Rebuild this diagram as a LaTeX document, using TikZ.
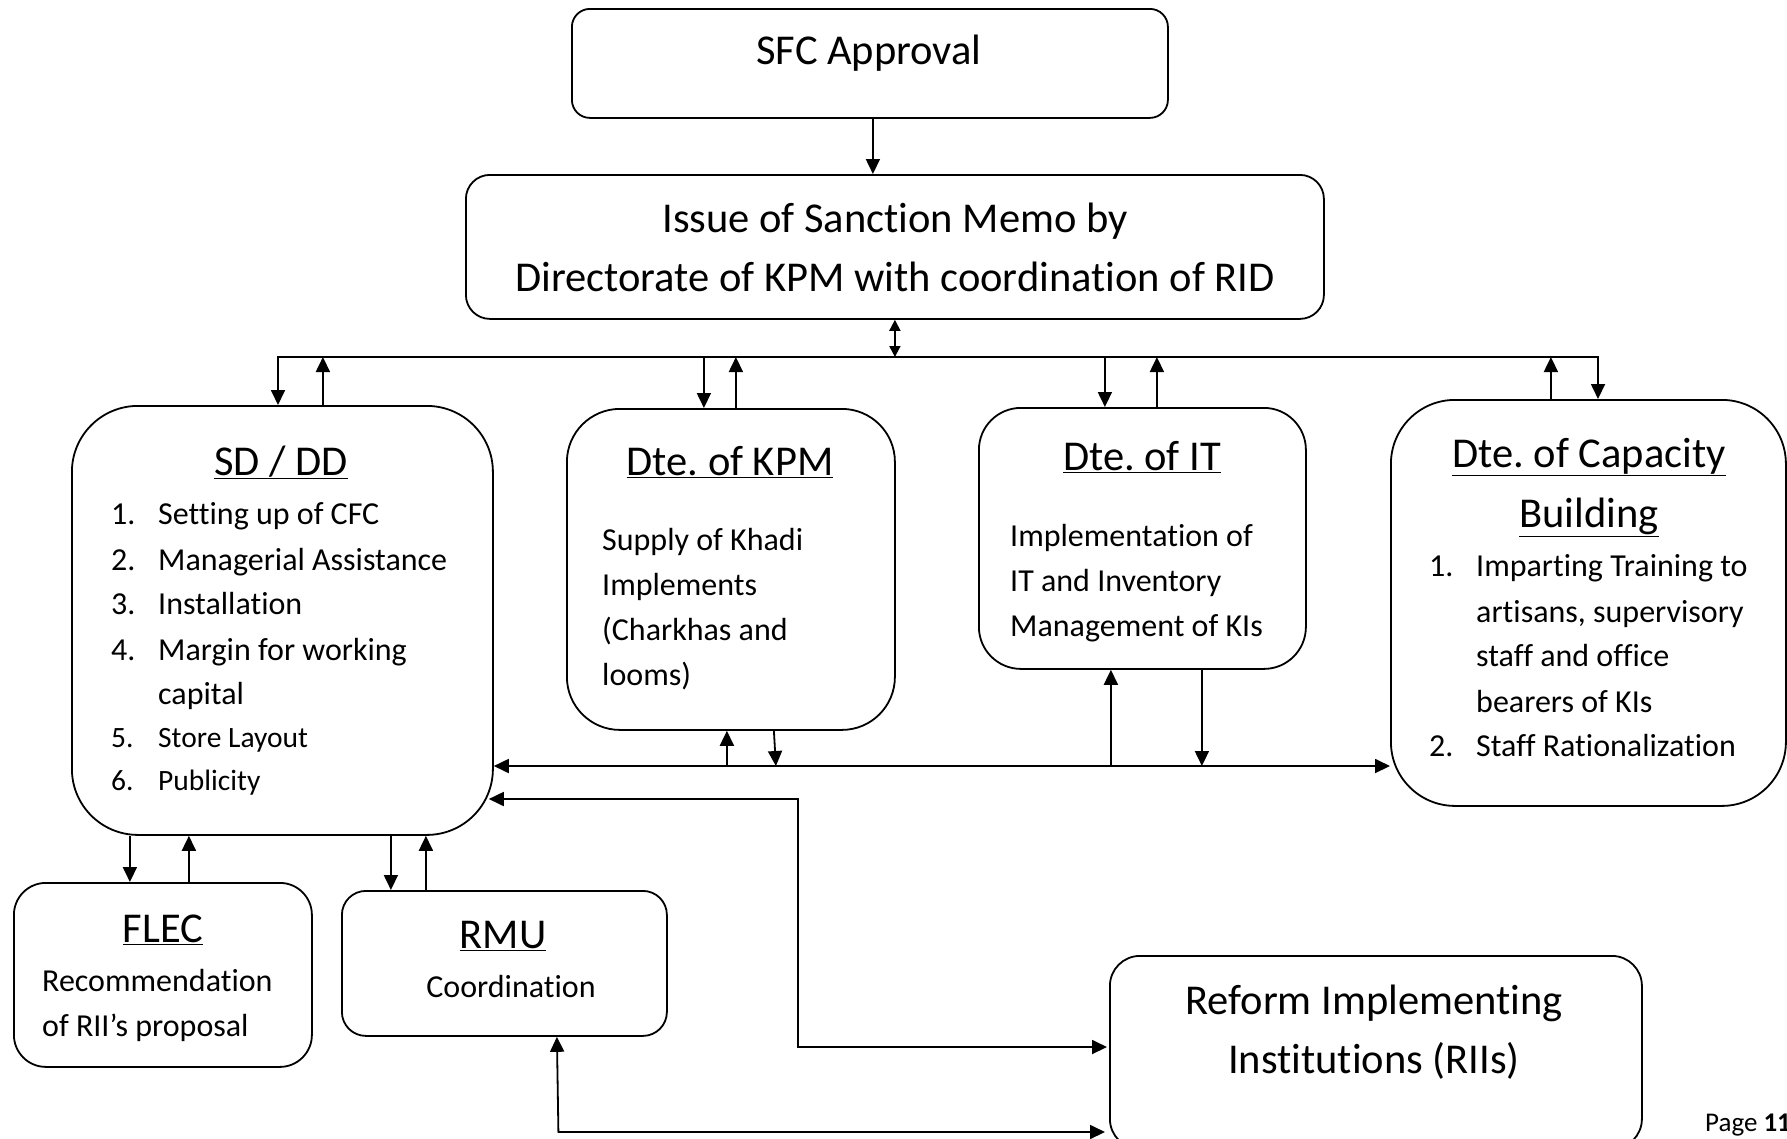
\documentclass[tikz,border=0pt]{standalone}
\usepackage{fontspec}
\setmainfont{Carlito}[Ligatures=NoCommon]
\usetikzlibrary{arrows.meta}
\frenchspacing
\begin{document}
\begin{tikzpicture}[x=1pt,y=-1pt,
  box/.style={draw, line width=1.8pt, rounded corners=#1, inner sep=0pt, anchor=north west},
  ttl/.style={font=\fontsize{42.5}{59}\selectfont, inner sep=0pt, anchor=mid, yshift=-11pt},
  bdy/.style={font=\fontsize{32}{45}\selectfont, inner sep=0pt, anchor=mid west, yshift=-8pt},
  sml/.style={font=\fontsize{29.5}{42}\selectfont, inner sep=0pt, anchor=mid west, yshift=-8pt},
  arr/.style={-{Triangle[length=15pt,width=14pt]}, line width=1.8pt},
  darr/.style={{Triangle[length=15pt,width=14pt]}-{Triangle[length=15pt,width=14pt]}, line width=1.8pt},
  sdarr/.style={{Triangle[length=11pt,width=11pt]}-{Triangle[length=11pt,width=11pt]}, line width=1.8pt}]
\useasboundingbox (0,0) rectangle (1787,1138);

% boxes
\node[box=18pt, minimum width=596pt, minimum height=109pt] (sfc) at (571,8) {};
\node[box=24pt, minimum width=858pt, minimum height=144pt] (sanc) at (465,174) {};
\node[box=66pt, minimum width=421pt, minimum height=429pt] (sd) at (71,405) {};
\node[box=53pt, minimum width=328pt, minimum height=321pt] (kpm) at (566,408) {};
\node[box=42pt, minimum width=327pt, minimum height=261pt] (it) at (978,407) {};
\node[box=64pt, minimum width=395pt, minimum height=406pt] (cap) at (1390,399) {};
\node[box=32pt, minimum width=298pt, minimum height=184pt] (flec) at (13,882) {};
\node[box=24pt, minimum width=325pt, minimum height=145pt] (rmu) at (341,890) {};
\node[box=30pt, minimum width=532pt, minimum height=193pt] (rii) at (1109,955) {};

% texts
\node[ttl] (t1) at (869,51) {SFC Approval};
\node[ttl] (t2) at (895,219) {Issue of Sanction Memo by};
\node[ttl] (t3) at (895,278) {Directorate of KPM with coordination of RID};

\node[ttl] (sdt) at (281,462) {\underline{SD / DD}};
\foreach \n/\t/\y in {1/Setting up of CFC/514, 2/Managerial Assistance/560, 3/Installation/604, 4/Margin for working/650}{
  \node[bdy] (sdn\n) at (111,\y) {\n.};
  \node[bdy] (sdi\n) at (158,\y) {\t};
}
\node[bdy] (sdi4b) at (158,694) {capital};
\node[sml] (sdn5) at (111,737) {5.};
\node[sml] (sdi5) at (158,737) {Store Layout};
\node[sml] (sdn6) at (111,780) {6.};
\node[sml] (sdi6) at (158,780) {Publicity};

\node[ttl] (kpmt) at (730,462) {\underline{Dte. of KPM}};
\node[bdy] (kpm1) at (602,540) {Supply of Khadi};
\node[bdy] (kpm2) at (602,585) {Implements};
\node[bdy] (kpm3) at (602,630) {(Charkhas and};
\node[bdy] (kpm4) at (602,675) {looms)};

\node[ttl] (itt) at (1142,457) {\underline{Dte. of IT}};
\node[bdy] (it1) at (1010,536) {Implementation of};
\node[bdy] (it2) at (1010,581) {IT and Inventory};
\node[bdy] (it3) at (1010,626) {Management of KIs};

\node[ttl] (capt1) at (1589,454) {\underline{Dte. of Capacity}};
\node[ttl] (capt2) at (1589,514) {\underline{Building}};
\node[bdy] (capn1) at (1429,566) {1.};
\node[bdy] (capi1) at (1476,566) {Imparting Training to};
\node[bdy] (capi1b) at (1476,612) {artisans, supervisory};
\node[bdy] (capi1c) at (1476,656) {staff and office};
\node[bdy] (capi1d) at (1476,702) {bearers of KIs};
\node[bdy] (capn2) at (1429,746) {2.};
\node[bdy] (capi2) at (1476,746) {Staff Rationalization};

\node[ttl] (flect) at (163,929) {\underline{FLEC}};
\node[bdy] (flec1) at (42,981) {Recommendation};
\node[bdy] (flec2) at (42,1026) {of RII’s proposal};

\node[ttl] (rmut) at (503,935) {\underline{RMU}};
\node[bdy, anchor=mid] (rmu1) at (511,987) {Coordination};

\node[ttl] (rii1) at (1374,1001) {Reform Implementing};
\node[ttl] (rii2) at (1374,1060) {Institutions (RIIs)};

\node[font=\fontsize{27}{32}\selectfont, inner sep=0pt, anchor=mid west, yshift=-6pt] (page) at (1705,1123) {Page \textbf{11}};

% connectors
\coordinate (busL) at (278,357);
\coordinate (busR) at (1598,357);
\coordinate (hy) at (800,766);
\coordinate (k1) at (798,799);
\coordinate (k2) at (798,1047);
\coordinate (k3) at (556,1132);

\draw[arr] ([xshift=3pt]sfc.south) -- ([xshift=3pt]sfc.south |- sanc.north);
\draw[sdarr] (sanc.south) -- (sanc.south |- busL);

\draw[darr] (busL |- sd.north) -- (busL) -- (busR) -- (busR |- cap.north);
\draw[arr] ([xshift=40.5pt]sd.north) -- ([xshift=40.5pt]sd.north |- busL);
\draw[arr] ([xshift=-27pt]kpm.north |- busL) -- ([xshift=-27pt]kpm.north);
\draw[arr] ([xshift=5pt]kpm.north) -- ([xshift=5pt]kpm.north |- busL);
\draw[arr] ([xshift=-37.5pt]it.north |- busL) -- ([xshift=-37.5pt]it.north);
\draw[arr] ([xshift=14.5pt]it.north) -- ([xshift=14.5pt]it.north |- busL);
\draw[arr] ([xshift=-37.5pt]cap.north) -- ([xshift=-37.5pt]cap.north |- busL);

\draw[darr] (sd.east |- hy) -- (cap.west |- hy);
\draw[arr] ([xshift=-4pt]kpm.south |- hy) -- ([xshift=-4pt]kpm.south);
\draw[arr] ([xshift=43pt]kpm.south) -- ([xshift=45pt]kpm.south |- hy);
\draw[arr] ([xshift=-31.5pt]it.south |- hy) -- ([xshift=-31.5pt]it.south);
\draw[arr] ([xshift=59.5pt]it.south) -- ([xshift=59.5pt]it.south |- hy);

\draw[darr] ([xshift=-5pt]sd.east |- k1) -- (k1) -- (k2) -- ([xshift=-2pt]rii.west |- k2);
\draw[darr] ([xshift=52.5pt]rmu.south) -- ([xshift=54pt]rmu.south |- k3) -- ([xshift=-4pt]rii.west |- k3);

\draw[arr] ([xshift=-33pt]flec.north |- sd.south) -- ([xshift=-33pt]flec.north);
\draw[arr] ([xshift=26pt]flec.north) -- ([xshift=26pt]flec.north |- sd.south);
\draw[arr] ([xshift=-113.5pt]rmu.north |- sd.south) -- ([xshift=-113.5pt]rmu.north);
\draw[arr] ([xshift=-78.5pt]rmu.north) -- ([xshift=-78.5pt]rmu.north |- sd.south);
\end{tikzpicture}
\end{document}
